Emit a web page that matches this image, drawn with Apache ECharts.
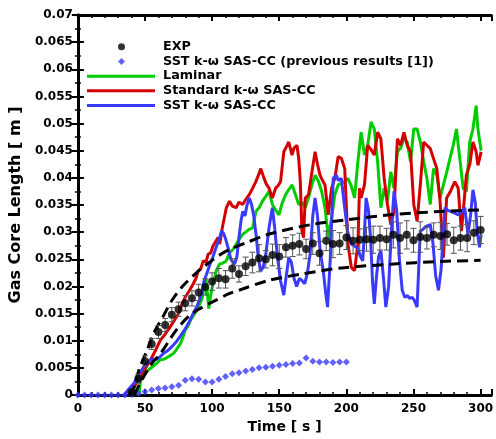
<!DOCTYPE html>
<html><head><meta charset="utf-8">
<script src="https://cdn.jsdelivr.net/npm/echarts@6/dist/echarts.min.js"></script>
<style>html,body{margin:0;padding:0;background:#fff}#c{width:496px;height:439px}</style>
</head><body><div id="c"></div>
<script>
// ---- data ----
const expTime = [40,45,50,55,60,65,70,75,80,85,90,95,100,105,110,115,120,125,130,135,140,145,150,155,160,165,170,175,180,185,190,195,200,205,210,215,220,225,230,235,240,245,250,255,260,265,270,275,280,285,290,295,300];
const expValue = [0.0005,0.003,0.0062,0.0094,0.0116,0.0129,0.0148,0.0158,0.0169,0.0178,0.0189,0.0199,0.0209,0.0215,0.0213,0.0233,0.0223,0.0237,0.0244,0.0252,0.0250,0.0258,0.0255,0.0272,0.0275,0.0278,0.0269,0.0279,0.0261,0.0284,0.0278,0.0279,0.0290,0.0284,0.0286,0.0287,0.0286,0.0289,0.0287,0.0295,0.0289,0.0295,0.0285,0.0291,0.0289,0.0295,0.0293,0.0296,0.0285,0.0289,0.0289,0.0299,0.0304];
const expError = [0.0005,0.0008,0.001,0.001,0.0012,0.0012,0.0013,0.0013,0.0014,0.0014,0.0015,0.0015,0.0016,0.0018,0.0016,0.0018,0.0015,0.0017,0.0019,0.0025,0.0016,0.0020,0.0022,0.0018,0.0020,0.0020,0.0018,0.0020,0.0022,0.0018,0.0025,0.0020,0.0022,0.0024,0.0020,0.0022,0.0025,0.0022,0.0020,0.0024,0.0028,0.0026,0.0022,0.0028,0.0020,0.0022,0.0025,0.0020,0.0024,0.0022,0.0025,0.0022,0.0025];

const prevTime = [0,5,10,15,20,25,30,35,40,45,50,55,60,65,70,75,80,85,90,95,100,105,110,115,120,125,130,135,140,145,150,155,160,165,170,175,180,185,190,195,200];
const prevValue = [0,0,0,0,0,0,0,0,0.0001,0.0003,0.0006,0.0009,0.0012,0.0013,0.0015,0.0018,0.0027,0.003,0.0029,0.0024,0.0024,0.0029,0.0034,0.0039,0.0041,0.0044,0.0047,0.0050,0.0051,0.0053,0.0055,0.0056,0.0058,0.0059,0.0068,0.0062,0.0061,0.0061,0.0060,0.0061,0.0061];

const upperEnv = [[38,0],[42,0.0015],[45.6,0.0047],[51.7,0.0083],[56.6,0.0114],[64,0.0147],[70,0.0174],[78.7,0.0202],[91,0.0231],[100,0.0248],[105,0.0257],[113,0.0268],[125,0.028],[142,0.0296],[174,0.0314],[201,0.0323],[233,0.0332],[270,0.0338],[300,0.0341]];
const lowerEnv = [[42,0],[46,0.002],[50,0.0038],[55,0.0058],[60,0.0072],[64,0.0085],[70,0.0108],[76,0.0128],[83,0.0146],[90,0.0158],[100,0.0171],[113,0.0187],[120,0.0193],[142,0.0211],[167,0.0223],[196,0.0234],[233,0.0241],[270,0.0246],[300,0.0248]];

const laminar = [[45.6,0],[46.8,0.003],[48.5,0.0036],[50.5,0.0041],[53,0.0047],[56,0.0053],[59,0.0059],[61.5,0.0065],[64,0.0066],[66.5,0.0069],[69,0.0073],[71.5,0.0077],[74,0.0086],[76.5,0.0095],[78.5,0.0108],[80,0.012],[82,0.0127],[84,0.0138],[86.5,0.0148],[88.5,0.0156],[90.5,0.0166],[92.5,0.0178],[94.5,0.0205],[95.5,0.0214],[97.5,0.0159],[99,0.0185],[100.7,0.0205],[103,0.0228],[105.5,0.0241],[108,0.0243],[110.5,0.0247],[113,0.0262],[115.5,0.0268],[118,0.0278],[120.5,0.0288],[122.8,0.0296],[125,0.0300],[127.5,0.0305],[130.2,0.0308],[132.6,0.0338],[135,0.0345],[137.5,0.0357],[140,0.0366],[142.4,0.0375],[144.9,0.0351],[147.5,0.0340],[149.8,0.0332],[152,0.0352],[154.7,0.0369],[157,0.0378],[159.6,0.0387],[162,0.0370],[164.5,0.0351],[167,0.0355],[169.4,0.0345],[172,0.0365],[174.3,0.0387],[176.7,0.0405],[179,0.0395],[181.6,0.0375],[184.1,0.0345],[186.5,0.029],[189,0.0326],[191.4,0.0369],[193.9,0.0387],[196.3,0.0390],[198.8,0.0393],[201.2,0.0399],[203.7,0.0385],[206.1,0.0363],[208.6,0.043],[211,0.0484],[213.5,0.0442],[215.9,0.046],[218.4,0.0503],[220.8,0.049],[223.3,0.043],[225.7,0.0345],[228.2,0.0381],[230.6,0.0357],[233.1,0.0411],[235.5,0.0381],[238,0.0448],[240.4,0.0455],[242.9,0.0472],[245.3,0.0466],[247.8,0.043],[250.2,0.049],[252.7,0.049],[255.1,0.0466],[257.6,0.043],[260,0.0399],[262.5,0.0351],[264.9,0.0417],[267.4,0.0405],[269.8,0.0363],[272.3,0.0387],[274.7,0.041],[277.2,0.0436],[279.6,0.046],[282,0.049],[284.5,0.0436],[287,0.0381],[289.4,0.0375],[291.9,0.0466],[294.3,0.049],[296.7,0.0533],[298,0.049],[300.4,0.045]];

const standard = [[38.2,0],[42,0.0015],[46.8,0.0035],[50,0.0048],[54.2,0.0065],[58,0.0083],[61.5,0.0101],[65,0.0112],[68.9,0.0126],[72,0.0138],[75,0.015],[77.5,0.0167],[79.9,0.018],[83,0.0192],[86,0.0205],[88,0.0215],[89.7,0.0229],[91.5,0.0232],[93.4,0.0247],[95.5,0.0245],[97,0.0259],[99,0.0262],[100.7,0.0275],[102.5,0.0282],[104.4,0.029],[105.7,0.0278],[107.6,0.0308],[110.6,0.0345],[113,0.0357],[115,0.0348],[117.9,0.0345],[120,0.0355],[122.8,0.0351],[125,0.0360],[127.7,0.0369],[130,0.038],[132.6,0.0393],[134.5,0.0405],[136.3,0.0417],[138.7,0.0399],[140.5,0.0388],[142.4,0.0381],[144.9,0.0363],[147.3,0.0381],[149,0.0385],[151,0.0393],[153.4,0.0448],[155.5,0.0458],[157.1,0.0466],[159.5,0.0442],[161,0.0455],[163.2,0.046],[164.5,0.0436],[165.7,0.0393],[166.9,0.0302],[168.1,0.029],[169.4,0.0363],[171.8,0.0369],[174,0.0405],[176.7,0.0448],[178.5,0.0425],[180.4,0.0405],[182.3,0.0395],[184.1,0.0387],[186.5,0.0332],[189,0.0381],[191.4,0.0399],[193.9,0.0439],[196.3,0.0436],[198.8,0.0417],[201.2,0.0278],[203.7,0.0235],[206.1,0.0229],[208.6,0.0278],[209.8,0.0381],[211,0.0363],[213.5,0.0387],[215.9,0.046],[218.4,0.0452],[220.8,0.0442],[223.3,0.0484],[225.7,0.0472],[228.2,0.0399],[230.6,0.0351],[233.1,0.0314],[235.5,0.0338],[238,0.0472],[240.4,0.046],[242.9,0.0484],[245.3,0.046],[247.8,0.0448],[250.2,0.0351],[252.7,0.032],[255.1,0.0387],[257.6,0.0466],[260,0.046],[262.5,0.0454],[265,0.0435],[267.4,0.0417],[269.8,0.0357],[272.3,0.0253],[274.7,0.0363],[277.5,0.0375],[280.8,0.0393],[283.3,0.0381],[285.7,0.0302],[287.5,0.035],[289.4,0.0405],[292,0.0425],[294.3,0.0466],[296.7,0.0448],[298,0.0423],[300.4,0.0448]];

const sst = [[34.6,0],[38,0.0011],[41.9,0.0022],[45,0.0035],[49.3,0.0053],[52,0.006],[54.2,0.0065],[57,0.0066],[59,0.0066],[61.5,0.0071],[64,0.0077],[67,0.0082],[70,0.0089],[73,0.0097],[76.2,0.0108],[79,0.0118],[82.4,0.0132],[85.5,0.0148],[88.5,0.0162],[90.5,0.0175],[92.2,0.0187],[94,0.021],[95.8,0.0222],[98,0.0238],[100.7,0.0255],[103,0.0272],[105.6,0.029],[107,0.0302],[108.5,0.0298],[110,0.0288],[112,0.0270],[114,0.0250],[116.7,0.0241],[118.5,0.0255],[120,0.0290],[121.5,0.0320],[122.8,0.0338],[124.5,0.0330],[126,0.0350],[127.7,0.0363],[129.5,0.0350],[131,0.0330],[133,0.0290],[134.5,0.0250],[136.3,0.0229],[138,0.0235],[140,0.0259],[142.5,0.0310],[144.9,0.0345],[146.5,0.0310],[148.5,0.0259],[151,0.0210],[153.4,0.0184],[155,0.0215],[157.1,0.0253],[159,0.0245],[161,0.0215],[163,0.0200],[165,0.0215],[166.9,0.0211],[169,0.0205],[171,0.0225],[173,0.0260],[175,0.0330],[176.7,0.0363],[178.5,0.0330],[180.5,0.0265],[182.8,0.0229],[184.5,0.0190],[186,0.0162],[188,0.0250],[190.2,0.0399],[192.5,0.0405],[194,0.0395],[196.3,0.0399],[198.5,0.035],[201,0.0300],[203.7,0.0278],[206,0.0275],[208.5,0.0270],[210.5,0.0255],[212.2,0.0247],[213.5,0.030],[214.7,0.0363],[216.5,0.0340],[218,0.0290],[219.6,0.0205],[220.8,0.0168],[222.5,0.0220],[224,0.0255],[225.7,0.0266],[227.5,0.0220],[229.4,0.0162],[231.5,0.0200],[233.5,0.0300],[235.5,0.0375],[237.5,0.0340],[239.5,0.0250],[241.6,0.0193],[243.5,0.0180],[245.5,0.0183],[247,0.0178],[249,0.018],[250.5,0.0175],[252.7,0.0162],[254,0.0240],[255.1,0.0302],[257,0.0305],[259,0.0310],[262.5,0.0314],[264.5,0.0280],[266.5,0.0220],[268.6,0.0193],[270.5,0.0230],[273.5,0.0345],[275.5,0.0340],[278,0.0338],[280.8,0.0335],[283,0.0332],[285,0.0335],[288.2,0.0345],[290.6,0.0296],[292.5,0.033],[294.3,0.0378],[296,0.0355],[297.5,0.0300],[299.2,0.0272],[300.4,0.0296]];

const names = ['EXP','SST k-\u03c9 SAS-CC (previous results [1])','Laminar','Standard k-\u03c9 SAS-CC','SST k-\u03c9 SAS-CC'];

// ---- chart ----
const FONT = 'DejaVu Sans';
const X_MAX = 308, Y_MAX = 0.07;
const chart = echarts.init(document.getElementById('c'), null, {renderer: 'canvas'});
const lbl = {fontFamily: FONT, fontWeight: 'bold', fontSize: 12, color: '#000'};
const axLine = {show: true, lineStyle: {color: '#000', width: 3}};
function xAx(pos, major, labels) {
  return {
    type: 'value', position: pos, min: 0, max: X_MAX, interval: major ? 50 : 10,
    axisLine: major ? axLine : {show: false},
    axisTick: {show: true, inside: true, length: major ? 6 : 3, lineStyle: {color: '#000', width: major ? 2 : 1.5}},
    axisLabel: {show: labels, ...lbl, margin: 8, formatter: v => (v % 50 === 0 ? String(v) : '')},
    splitLine: {show: false},
    name: labels ? 'Time [ s ]' : '', nameLocation: 'middle', nameGap: 25,
    nameTextStyle: {fontFamily: FONT, fontWeight: 'bold', fontSize: 14, color: '#000'}
  };
}
function yAx(pos, labels) {
  return {
    type: 'value', position: pos, min: 0, max: Y_MAX, interval: 0.005,
    axisLine: axLine,
    axisTick: {show: true, inside: true, length: 6, lineStyle: {color: '#000', width: 2}},
    minorTick: {show: true, splitNumber: 2, length: 3, lineStyle: {color: '#000', width: 1.5}},
    axisLabel: {show: labels, ...lbl, margin: 5, formatter: v => String(+v.toFixed(3))},
    splitLine: {show: false},
    name: labels ? 'Gas Core Length [ m ]' : '', nameLocation: 'middle', nameGap: 52,
    nameTextStyle: {fontFamily: FONT, fontWeight: 'bold', fontSize: 16, color: '#000'}
  };
}
const legText = {fontFamily: FONT, fontWeight: 'bold', fontSize: 12.8, color: '#000', lineHeight: 14.7};

const option = {
  animation: false,
  backgroundColor: '#fff',
  grid: {left: 73, right: 4, top: 15, bottom: 40, show: false},
  xAxis: [xAx('bottom', true, true), xAx('bottom', false, false), xAx('top', true, false), xAx('top', false, false)],
  yAxis: [yAx('left', true), yAx('right', false)],
  legend: [
    {
      data: [{name: names[0], icon: 'circle'}, {name: names[1], icon: 'diamond'}],
      orient: 'vertical', left: 113, top: 34.5, itemWidth: 7, itemHeight: 7, itemGap: 0,
      itemStyle: {borderWidth: 0},
      textStyle: {...legText, padding: [0, 0, 0, 33]}
    },
    {
      data: [names[2], names[3], names[4]],
      orient: 'vertical', left: 82, top: 63.8, itemWidth: 68, itemHeight: 3, itemGap: 0,
      icon: 'rect', itemStyle: {borderWidth: 0},
      textStyle: {...legText, padding: [0, 0, 0, 3]}
    }
  ],
  series: [
    {name: names[1], type: 'scatter', data: prevTime.map((t, i) => [t, prevValue[i]]), symbol: 'diamond', symbolSize: 7, itemStyle: {color: '#3a3aff'}, z: 3},
    {name: names[2], type: 'line', data: laminar, smooth: false, showSymbol: false, symbol: 'none', color: '#00cc00', lineStyle: {color: '#00cc00', width: 3}, z: 3},
    {name: names[3], type: 'line', data: standard, smooth: false, showSymbol: false, symbol: 'none', color: '#d40000', lineStyle: {color: '#d40000', width: 3}, z: 4},
    {name: names[4], type: 'line', data: sst, smooth: false, showSymbol: false, symbol: 'none', color: '#3a3aff', lineStyle: {color: '#3a3aff', width: 3}, z: 5},
    {name: 'upper', type: 'line', data: upperEnv, showSymbol: false, symbol: 'none', smooth: 0.3, lineStyle: {color: '#000', width: 3, type: [11, 6]}, z: 6, silent: true},
    {name: 'lower', type: 'line', data: lowerEnv, showSymbol: false, symbol: 'none', smooth: 0.3, lineStyle: {color: '#000', width: 3, type: [11, 6]}, z: 6, silent: true},
    {
      name: 'err', type: 'custom', z: 7, silent: true,
      data: expTime.map((t, i) => [t, expValue[i], expError[i]]),
      encode: {x: 0, y: 1},
      renderItem: function (params, api) {
        const t = api.value(0), v = api.value(1), e = api.value(2);
        const hi = api.coord([t, v + e]);
        const lo = api.coord([t, Math.max(0, v - e)]);
        const w = 3;
        const st = {stroke: '#555', lineWidth: 1};
        return {type: 'group', children: [
          {type: 'line', shape: {x1: hi[0], y1: hi[1], x2: lo[0], y2: lo[1]}, style: st},
          {type: 'line', shape: {x1: hi[0] - w, y1: hi[1], x2: hi[0] + w, y2: hi[1]}, style: st},
          {type: 'line', shape: {x1: lo[0] - w, y1: lo[1], x2: lo[0] + w, y2: lo[1]}, style: st}
        ]};
      }
    },
    {name: names[0], type: 'scatter', data: expTime.map((t, i) => [t, expValue[i]]), symbol: 'circle', symbolSize: 8, itemStyle: {color: '#000'}, z: 8}
  ]
};
chart.setOption(option);
</script>
</body></html>
